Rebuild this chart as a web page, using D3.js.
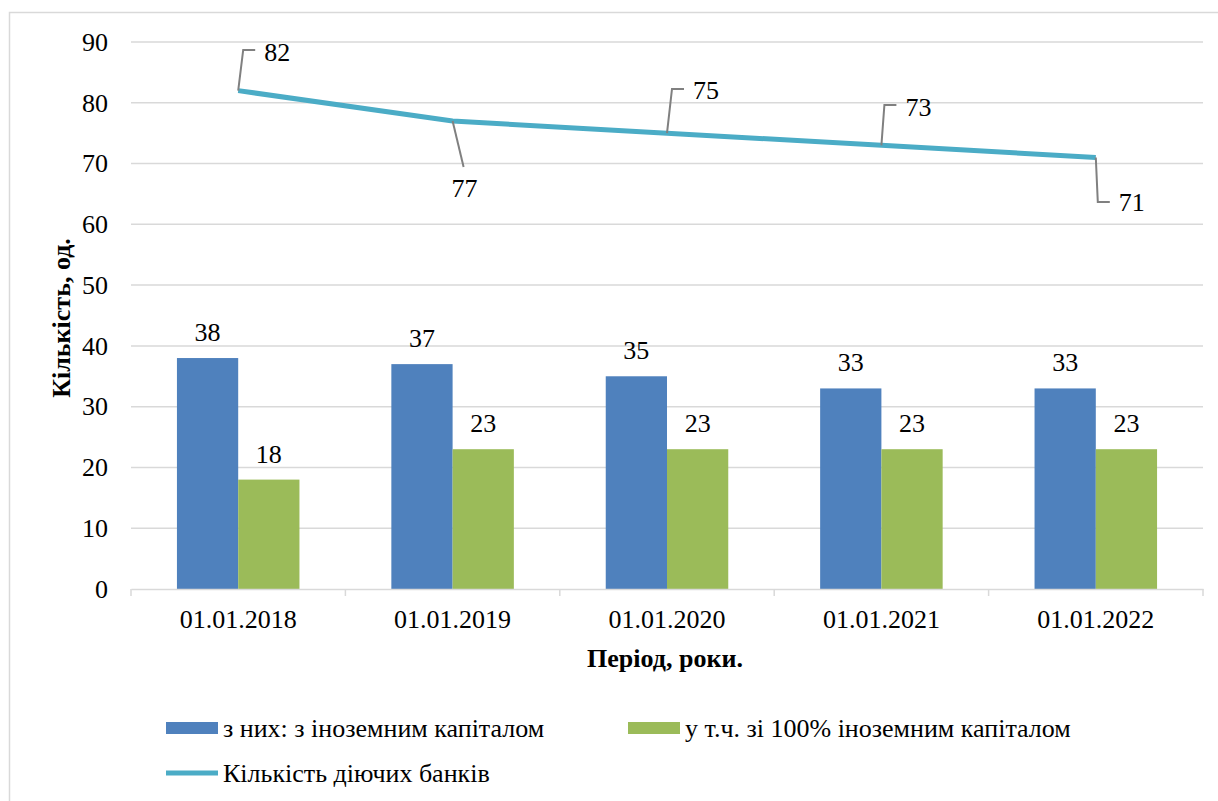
<!DOCTYPE html>
<html>
<head>
<meta charset="utf-8">
<script src="https://cdn.jsdelivr.net/npm/d3@7"></script>
<style>
  body { margin: 0; background: #fff; }
</style>
</head>
<body>
<svg id="chart"></svg>
<script>
const periods = ["01.01.2018", "01.01.2019", "01.01.2020", "01.01.2021", "01.01.2022"];
const foreignCapital = [38, 37, 35, 33, 33];
const fullForeign = [18, 23, 23, 23, 23];
const activeBanks = [82, 77, 75, 73, 71];
const yTicks = [0, 10, 20, 30, 40, 50, 60, 70, 80, 90];

const seriesNames = [
  "з них: з іноземним капіталом",
  "у т.ч. зі 100% іноземним капіталом",
  "Кількість діючих банків"
];

// leader placement for line labels (layout only)
const leaderLayout = [
  { top: 50, bend: 5, ty: 52 },
  { top: 167, bend: 11, ty: 188, straight: true },
  { top: 89, bend: 5, ty: 90 },
  { top: 105, bend: 3, ty: 107 },
  { top: 202, bend: 2, ty: 202 }
];

const FONT = "Liberation Serif";
const FS = 26;
const width = 1218;
const height = 801;
const margin = { top: 42, right: 15, bottom: 212, left: 131 };

const svg = d3.select("#chart")
  .attr("width", width)
  .attr("height", height)
  .attr("font-family", FONT);

// chart area border
svg.append("rect")
  .attr("x", 9.5).attr("y", 12.5)
  .attr("width", 1400).attr("height", 1000)
  .attr("fill", "none")
  .attr("stroke", "#d9d9d9")
  .attr("stroke-width", 1.5);

const x = d3.scaleBand()
  .domain(periods)
  .range([margin.left, width - margin.right]);

const inner = d3.scaleBand()
  .domain([0, 1])
  .range([0, x.bandwidth()])
  .paddingInner(0)
  .paddingOuter(0.75);

const y = d3.scaleLinear()
  .domain([0, 90])
  .range([height - margin.bottom, margin.top]);

// gridlines
svg.append("g")
  .selectAll("line")
  .data(yTicks.filter(d => d > 0))
  .enter()
  .append("line")
  .attr("x1", margin.left)
  .attr("x2", width - margin.right)
  .attr("y1", d => y(d))
  .attr("y2", d => y(d))
  .attr("stroke", "#d9d9d9")
  .attr("stroke-width", 1.5);

// y axis labels
svg.append("g")
  .attr("transform", `translate(${margin.left},0)`)
  .call(d3.axisLeft(y).tickValues(yTicks).tickSize(0).tickPadding(23))
  .attr("font-family", FONT)
  .call(g => g.select(".domain").remove())
  .call(g => g.selectAll("text")
    .attr("font-family", FONT)
    .attr("font-size", FS)
    .attr("fill", "#000"));

// bars
const barSeries = [foreignCapital, fullForeign];
const barColors = ["#4f81bd", "#9bbb59"];

barSeries.forEach((values, s) => {
  svg.append("g")
    .selectAll("rect")
    .data(values)
    .enter()
    .append("rect")
    .attr("x", (d, i) => x(periods[i]) + inner(s))
    .attr("y", d => y(d))
    .attr("width", inner.bandwidth())
    .attr("height", d => y(0) - y(d))
    .attr("fill", barColors[s]);

  svg.append("g")
    .selectAll("text")
    .data(values)
    .enter()
    .append("text")
    .attr("x", (d, i) => x(periods[i]) + inner(s) + inner.bandwidth() / 2)
    .attr("y", d => y(d) - 17)
    .attr("text-anchor", "middle")
    .attr("font-family", FONT)
    .attr("font-size", FS)
    .attr("fill", "#000")
    .text(d => d);
});

// x axis
const xAxis = svg.append("g")
  .attr("transform", `translate(0,${y(0)})`)
  .call(d3.axisBottom(x).tickSize(0).tickPadding(21))
  .attr("font-family", FONT)
  .call(g => g.select(".domain").attr("stroke", "#d9d9d9").attr("stroke-width", 1.5))
  .call(g => g.selectAll("text")
    .attr("font-family", FONT)
    .attr("font-size", FS)
    .attr("fill", "#000"));

xAxis.selectAll(".sep")
  .data(d3.range(periods.length + 1))
  .enter()
  .append("line")
  .attr("x1", i => margin.left + i * x.step())
  .attr("x2", i => margin.left + i * x.step())
  .attr("y1", 0)
  .attr("y2", 7)
  .attr("stroke", "#d9d9d9")
  .attr("stroke-width", 1.5);

// line
const cx = i => x(periods[i]) + x.bandwidth() / 2;

svg.append("path")
  .datum(activeBanks)
  .attr("d", d3.line().x((d, i) => cx(i)).y(d => y(d)))
  .attr("fill", "none")
  .attr("stroke", "#4bacc6")
  .attr("stroke-width", 5);

// line labels with leader lines
activeBanks.forEach((v, i) => {
  const px = cx(i), py = y(v);
  const L = leaderLayout[i];
  const bx = px + L.bend;
  const pts = L.straight ? [[px, py], [bx, L.top]] : [[px, py], [bx, L.top], [bx + 12, L.top]];
  svg.append("path")
    .attr("d", d3.line()(pts))
    .attr("fill", "none")
    .attr("stroke", "#808080")
    .attr("stroke-width", 2);

  svg.append("text")
    .attr("x", L.straight ? bx + 1 : bx + 21)
    .attr("y", L.ty)
    .attr("dy", "0.35em")
    .attr("text-anchor", L.straight ? "middle" : "start")
    .attr("font-family", FONT)
    .attr("font-size", FS)
    .attr("fill", "#000")
    .text(v);
});

// axis titles
svg.append("text")
  .attr("x", 665)
  .attr("y", 667)
  .attr("text-anchor", "middle")
  .attr("font-family", FONT)
  .attr("font-size", FS)
  .attr("font-weight", "bold")
  .text("Період, роки.");

svg.append("text")
  .attr("transform", "rotate(-90)")
  .attr("x", -318)
  .attr("y", 70)
  .attr("text-anchor", "middle")
  .attr("font-family", FONT)
  .attr("font-size", FS)
  .attr("font-weight", "bold")
  .text("Кількість, од.");

// legend
const legend = svg.append("g");
const legendItems = [
  { name: seriesNames[0], color: barColors[0], type: "bar", x: 166, w: 52, tx: 223, y: 728 },
  { name: seriesNames[1], color: barColors[1], type: "bar", x: 628, w: 52, tx: 685, y: 728 },
  { name: seriesNames[2], color: "#4bacc6", type: "line", x: 166, w: 52, tx: 223, y: 773 }
];

legendItems.forEach(item => {
  if (item.type === "bar") {
    legend.append("rect")
      .attr("x", item.x).attr("y", item.y - 6)
      .attr("width", item.w).attr("height", 12)
      .attr("fill", item.color);
  } else {
    legend.append("line")
      .attr("x1", item.x).attr("x2", item.x + item.w)
      .attr("y1", item.y).attr("y2", item.y)
      .attr("stroke", item.color)
      .attr("stroke-width", 5);
  }
  legend.append("text")
    .attr("x", item.tx)
    .attr("y", item.y)
    .attr("dy", "0.35em")
    .attr("font-family", FONT)
    .attr("font-size", FS)
    .attr("fill", "#000")
    .text(item.name);
});
</script>
</body>
</html>
